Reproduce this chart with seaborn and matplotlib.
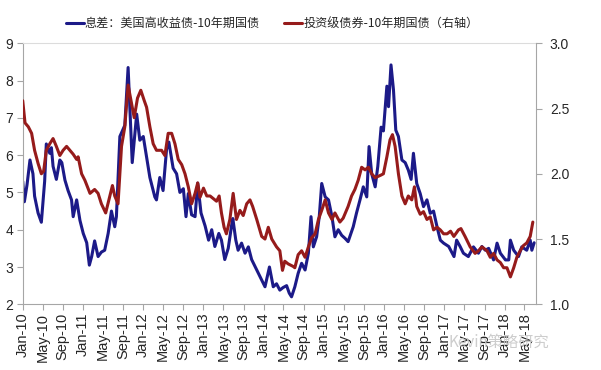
import pandas as pd
import numpy as np
import seaborn as sns
import matplotlib.pyplot as plt
from matplotlib.lines import Line2D

# ------------------------------------------------------------------
# Datos (fechas aproximadas)
hy_dates = ['2010-01-01', '2010-01-11', '2010-01-27', '2010-02-14', '2010-03-04', '2010-03-14', '2010-04-04', '2010-04-24', '2010-05-14', '2010-05-24',
            '2010-06-14', '2010-06-24', '2010-07-04', '2010-07-24', '2010-08-14', '2010-08-26', '2010-09-14', '2010-10-03', '2010-10-24', '2010-11-03',
            '2010-11-24', '2010-12-14', '2011-01-03', '2011-01-24', '2011-02-09', '2011-02-23', '2011-03-13', '2011-04-03', '2011-04-23', '2011-05-13',
            '2011-06-03', '2011-06-23', '2011-07-13', '2011-07-23', '2011-08-13', '2011-08-23', '2011-09-12', '2011-10-02', '2011-10-27', '2011-11-23',
            '2011-12-12', '2012-01-02', '2012-01-22', '2012-02-11', '2012-03-12', '2012-03-22', '2012-04-11', '2012-05-01', '2012-05-22', '2012-06-05',
            '2012-07-01', '2012-07-22', '2012-08-11', '2012-09-01', '2012-09-17', '2012-10-01', '2012-10-21', '2012-11-11', '2012-11-27', '2012-12-17',
            '2013-01-11', '2013-02-01', '2013-02-20', '2013-03-11', '2013-04-04', '2013-04-20', '2013-05-10', '2013-05-31', '2013-06-20', '2013-06-28',
            '2013-07-16', '2013-07-30', '2013-08-20', '2013-09-10', '2013-09-30', '2013-10-20', '2013-11-20', '2013-12-20', '2014-01-09', '2014-02-05',
            '2014-02-28', '2014-03-20', '2014-04-09', '2014-04-29', '2014-05-20', '2014-06-05', '2014-06-19', '2014-07-09', '2014-07-29', '2014-08-19',
            '2014-09-09', '2014-09-29', '2014-10-15', '2014-10-29', '2014-11-18', '2014-12-04', '2014-12-19', '2015-01-09', '2015-01-29', '2015-02-19',
            '2015-03-09', '2015-03-29', '2015-04-19', '2015-05-09', '2015-05-28', '2015-06-28', '2015-07-18', '2015-08-08', '2015-08-28', '2015-09-18',
            '2015-10-02', '2015-10-18', '2015-11-08', '2015-11-24', '2015-12-14', '2015-12-28', '2016-01-18', '2016-01-28', '2016-02-12', '2016-02-27',
            '2016-03-12', '2016-03-28', '2016-04-18', '2016-05-08', '2016-05-27', '2016-06-13', '2016-06-27', '2016-07-17', '2016-08-07', '2016-08-27',
            '2016-09-17', '2016-10-07', '2016-10-27', '2016-11-17', '2016-12-07', '2016-12-27', '2017-01-27', '2017-02-28', '2017-03-16', '2017-04-06',
            '2017-04-26', '2017-05-26', '2017-06-26', '2017-07-26', '2017-08-16', '2017-09-06', '2017-09-26', '2017-10-26', '2017-11-16', '2017-12-06',
            '2018-01-06', '2018-01-26', '2018-02-05', '2018-02-25', '2018-03-26', '2018-04-15', '2018-05-15', '2018-06-05', '2018-06-15', '2018-06-29']
hy_spread = [5.3, 4.75, 5.2, 5.87, 5.5, 4.9, 4.45, 4.2, 5.3, 6.3,
             6.05, 6.2, 5.7, 5.35, 5.87, 5.8, 5.33, 5.05, 4.8, 4.35,
             4.8, 4.25, 3.9, 3.65, 3.05, 3.28, 3.7, 3.28, 3.4, 3.45,
             3.9, 4.5, 4.08, 4.35, 6.5, 6.6, 6.8, 8.35, 5.8, 7.1,
             6.4, 6.5, 5.95, 5.4, 4.88, 4.8, 5.4, 5.05, 6.15, 6.35,
             5.65, 5.5, 5.0, 5.1, 4.35, 4.97, 4.4, 4.35, 5.25, 4.45,
             4.1, 3.72, 4.0, 3.55, 3.9, 3.72, 3.2, 3.5, 4.1, 4.3,
             3.72, 3.45, 3.64, 3.37, 3.54, 3.2, 2.92, 2.65, 2.47, 3.0,
             2.47, 2.55, 2.38, 2.45, 2.5, 2.3, 2.2, 2.47, 2.83, 3.1,
             2.92, 3.37, 4.35, 3.54, 3.81, 4.35, 5.24, 4.88, 4.8, 4.35,
             3.81, 4.0, 3.85, 3.77, 3.68, 4.08, 4.45, 4.8, 5.15, 4.88,
             6.23, 5.5, 5.15, 5.7, 6.75, 6.65, 7.85, 7.3, 8.42, 7.75,
             6.67, 6.5, 5.87, 5.8, 5.6, 5.35, 6.05, 5.24, 4.97, 4.62,
             4.8, 4.44, 4.5, 4.08, 3.72, 3.64, 3.55, 3.28, 3.72, 3.55,
             3.37, 3.28, 3.54, 3.37, 3.55, 3.45, 3.5, 3.19, 3.64, 3.37,
             3.19, 3.19, 3.72, 3.45, 3.28, 3.54, 3.45, 3.72, 3.45, 3.65]

ig_dates = ['2010-01-01', '2010-01-15', '2010-02-04', '2010-02-24', '2010-03-14', '2010-04-04', '2010-04-24', '2010-05-08', '2010-05-24', '2010-06-14',
            '2010-07-04', '2010-07-24', '2010-08-14', '2010-09-03', '2010-09-24', '2010-10-14', '2010-11-03', '2010-11-24', '2010-12-03', '2010-12-24',
            '2011-01-13', '2011-02-13', '2011-03-13', '2011-04-03', '2011-04-23', '2011-05-19', '2011-06-13', '2011-06-29', '2011-07-13', '2011-08-02',
            '2011-08-23', '2011-09-12', '2011-10-02', '2011-10-23', '2011-11-08', '2011-11-28', '2011-12-18', '2012-01-08', '2012-01-22', '2012-02-11',
            '2012-03-02', '2012-03-22', '2012-04-22', '2012-05-12', '2012-06-01', '2012-06-22', '2012-07-12', '2012-08-01', '2012-08-22', '2012-09-11',
            '2012-10-01', '2012-10-21', '2012-11-11', '2012-11-27', '2012-12-11', '2013-01-01', '2013-01-21', '2013-02-10', '2013-03-01', '2013-03-21',
            '2013-04-06', '2013-04-20', '2013-05-06', '2013-05-20', '2013-06-10', '2013-06-30', '2013-07-20', '2013-08-10', '2013-08-30', '2013-09-20',
            '2013-10-10', '2013-10-26', '2013-11-20', '2013-12-20', '2014-01-09', '2014-01-29', '2014-02-19', '2014-03-20', '2014-04-09', '2014-04-25',
            '2014-05-09', '2014-05-29', '2014-06-29', '2014-07-09', '2014-07-29', '2014-08-19', '2014-09-09', '2014-09-29', '2014-10-19', '2014-11-09',
            '2014-11-29', '2014-12-19', '2015-01-09', '2015-01-29', '2015-02-19', '2015-03-09', '2015-04-08', '2015-04-28', '2015-05-28', '2015-06-18',
            '2015-07-08', '2015-07-28', '2015-08-18', '2015-09-08', '2015-09-28', '2015-10-18', '2015-11-08', '2015-12-13', '2015-12-28', '2016-01-18',
            '2016-02-06', '2016-02-21', '2016-03-08', '2016-03-28', '2016-04-18', '2016-05-08', '2016-05-27', '2016-06-17', '2016-07-03', '2016-07-17',
            '2016-08-07', '2016-08-27', '2016-09-17', '2016-10-07', '2016-10-27', '2016-11-17', '2016-12-07', '2016-12-27', '2017-01-17', '2017-02-07',
            '2017-02-27', '2017-03-27', '2017-04-11', '2017-05-06', '2017-06-06', '2017-07-06', '2017-07-26', '2017-08-16', '2017-09-16', '2017-10-06',
            '2017-10-26', '2017-11-16', '2017-12-06', '2017-12-26', '2018-01-15', '2018-02-05', '2018-02-25', '2018-03-16', '2018-04-05', '2018-04-25',
            '2018-05-15', '2018-06-05', '2018-06-21']
ig_spread = [2.56, 2.39, 2.36, 2.31, 2.18, 2.08, 2.0, 2.02, 2.18, 2.23,
             2.27, 2.21, 2.14, 2.18, 2.21, 2.18, 2.15, 2.11, 2.13, 2.0,
             1.95, 1.85, 1.88, 1.85, 1.77, 1.70, 1.83, 1.91, 1.83, 1.77,
             2.21, 2.36, 2.68, 2.54, 2.43, 2.58, 2.64, 2.56, 2.51, 2.36,
             2.23, 2.18, 2.18, 2.14, 2.31, 2.31, 2.23, 2.11, 2.07, 2.0,
             1.90, 1.77, 1.85, 1.93, 1.82, 1.89, 1.83, 1.83, 1.81, 1.79,
             1.83, 1.70, 1.59, 1.54, 1.65, 1.85, 1.65, 1.72, 1.68, 1.77,
             1.80, 1.75, 1.65, 1.52, 1.50, 1.59, 1.50, 1.44, 1.41, 1.26,
             1.33, 1.31, 1.29, 1.28, 1.38, 1.41, 1.36, 1.44, 1.51, 1.54,
             1.65, 1.72, 1.80, 1.70, 1.65, 1.70, 1.63, 1.66, 1.75, 1.83,
             1.88, 1.95, 2.05, 2.03, 2.05, 2.0, 1.97, 1.99, 2.0, 2.13,
             2.26, 2.30, 2.21, 2.0, 1.83, 1.77, 1.83, 1.80, 1.90, 1.75,
             1.69, 1.71, 1.65, 1.67, 1.57, 1.59, 1.57, 1.54, 1.54, 1.56,
             1.52, 1.57, 1.58, 1.52, 1.44, 1.39, 1.41, 1.44, 1.41, 1.36,
             1.39, 1.34, 1.32, 1.28, 1.28, 1.21, 1.28, 1.36, 1.41, 1.45,
             1.47, 1.52, 1.63]

label_hy = '息差：美国高收益债-10年期国债'
label_ig = '投资级债券-10年期国债（右轴）'
left_ticks = [2, 3, 4, 5, 6, 7, 8, 9]
right_ticks = [1.0, 1.5, 2.0, 2.5, 3.0]
tick_months = pd.date_range('2010-01-01', '2018-05-01', freq='4MS')
tick_labels = [d.strftime('%b-%y') for d in tick_months]
# ------------------------------------------------------------------

df_hy = pd.DataFrame({'fecha': pd.to_datetime(hy_dates), 'valor': hy_spread})
df_ig = pd.DataFrame({'fecha': pd.to_datetime(ig_dates), 'valor': ig_spread})

sns.set_style('white')
plt.rcParams['font.family'] = ['Liberation Sans', 'Noto Sans CJK SC', 'DejaVu Sans']

color_hy = '#1c1a88'
color_ig = '#961b1b'
gris = '#a6a6a6'

fig = plt.figure(figsize=(6.01, 3.70), dpi=100)
ax = fig.add_axes([0.0378, 0.1776, 0.854, 0.7054])

sns.lineplot(data=df_hy, x='fecha', y='valor', ax=ax, color=color_hy, lw=2.2)
ax2 = ax.twinx()
sns.lineplot(data=df_ig, x='fecha', y='valor', ax=ax2, color=color_ig, lw=2.2)

ax.set_xlim(pd.Timestamp('2010-01-01'), pd.Timestamp('2018-07-10'))
ax.set_ylim(2, 9)
ax2.set_ylim(1, 3)
ax.set_yticks(left_ticks)
ax2.set_yticks(right_ticks)
ax2.set_yticklabels([f'{t:.1f}' for t in right_ticks])
ax.set_xticks(tick_months)
ax.set_xticklabels(tick_labels, rotation=90)
for a in (ax, ax2):
    a.set_xlabel('')
    a.set_ylabel('')

# Ejes y bordes
for s in ['left', 'bottom']:
    ax.spines[s].set_color(gris)
ax.spines['top'].set_color('#dcdcdc')
ax.spines['right'].set_visible(False)
for s in ['left', 'bottom', 'top']:
    ax2.spines[s].set_visible(False)
ax2.spines['right'].set_color(gris)

ax.tick_params(axis='x', direction='out', length=4, color=gris, labelsize=10.5, pad=2, bottom=True)
ax.tick_params(axis='y', direction='out', length=4, color=gris, labelsize=10, pad=3, left=True)
ax2.tick_params(axis='y', direction='out', length=4, color=gris, labelsize=10, pad=6, right=True)

# Leyenda
handles = [Line2D([], [], color=color_hy, lw=2.2), Line2D([], [], color=color_ig, lw=2.2)]
fig.legend(handles, [label_hy, label_ig], loc='center', bbox_to_anchor=(0.453, 0.936),
           ncol=2, frameon=False, handlelength=1.5, handletextpad=0.1, columnspacing=2.0,
           prop={'family': ['Noto Sans CJK SC', 'DejaVu Sans'], 'size': 8.7})

# Marca de agua
fig.text(0.747, 1 - 342 / 370, 'Kevin策略研究', color='#c8c8c8', fontsize=11, va='center',
         family=['Noto Sans CJK SC', 'DejaVu Sans'], alpha=0.9)

plt.savefig('out.png', dpi=100)
